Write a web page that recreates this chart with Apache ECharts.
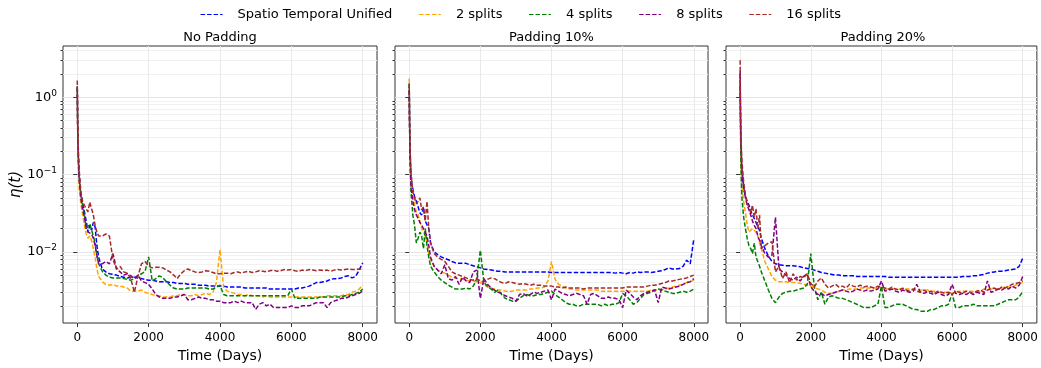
<!DOCTYPE html>
<html><head><meta charset="utf-8">
<script src="https://cdn.jsdelivr.net/npm/echarts@6/dist/echarts.min.js"></script>
<style>html,body{margin:0;padding:0;background:#fff}#c{width:1041px;height:368px}</style>
</head><body><div id="c"></div>
<script>
// ---------- data ----------
const T = [0,10,25,50,100,150,200,250,300,350,400,450,500,550,
600,700,800,900,1000,1100,1200,1300,1400,1500,
1600,1700,1800,1900,2000,2100,2200,2300,2400,2500,
2600,2700,2800,2900,3000,3100,3200,3300,3400,3500,
3600,3700,3800,3900,4000,4100,4200,4300,4400,4500,
4600,4700,4800,4900,5000,5100,5200,5300,5400,5500,
5600,5700,5800,5900,6000,6100,6200,6300,6400,6500,
6600,6700,6800,6900,7000,7100,7200,7300,7400,7500,
7600,7700,7800,7900,8000];

const seriesNames = ['Spatio Temporal Unified','2 splits','4 splits','8 splits','16 splits'];
const panelTitles = ['No Padding','Padding 10%','Padding 20%'];
const xTickValues = [0,2000,4000,6000,8000];
const yTickValues = [0.01,0.1,1];
const xLabel = 'Time (Days)';
const yLabel = '\u03b7(t)';

// Panel 1: No Padding
const p1Unified = [1.35,0.45,0.2,0.1,0.055,0.042,0.033,0.025,0.018,0.022,0.019,0.024,0.021,0.012,
0.0085,0.006,0.0055,0.0052,0.0051,0.005,0.0048,0.0047,0.0046,0.0047,
0.0047,0.0046,0.0045,0.0044,0.0043,0.0043,0.0042,0.0041,0.0041,0.0041,
0.004,0.004,0.0039,0.0039,0.0039,0.0038,0.0038,0.0038,0.0037,0.0037,
0.0037,0.0036,0.0036,0.0036,0.0036,0.0036,0.0035,0.0035,0.0035,0.0035,
0.0035,0.0034,0.0034,0.0034,0.0034,0.0034,0.0034,0.0034,0.0033,0.0033,
0.0033,0.0033,0.0033,0.0033,0.0033,0.0033,0.0034,0.0034,0.0035,0.0036,
0.0038,0.004,0.004,0.0041,0.0042,0.0044,0.0045,0.0045,0.0046,0.0048,
0.0049,0.0046,0.0048,0.0058,0.0072];
const p1Split2 = [1.3,0.4,0.15,0.07,0.042,0.03,0.022,0.017,0.015,0.016,0.014,0.011,0.0085,0.006,
0.0048,0.0041,0.0038,0.0037,0.0038,0.0036,0.0036,0.0035,0.0034,0.0031,
0.0031,0.0031,0.0032,0.003,0.0029,0.0028,0.0027,0.0027,0.0026,0.0026,
0.0026,0.0027,0.0027,0.0028,0.0028,0.0027,0.0027,0.0028,0.0027,0.0028,
0.0029,0.0028,0.003,0.004,0.0107,0.0035,0.0031,0.003,0.0029,0.0028,
0.0028,0.0027,0.0028,0.0027,0.0027,0.0027,0.0026,0.0027,0.0026,0.0026,
0.0026,0.0026,0.0026,0.0026,0.0026,0.0026,0.0026,0.0026,0.0026,0.0026,
0.0026,0.0026,0.0026,0.0026,0.0027,0.0027,0.0027,0.0027,0.0027,0.0028,
0.0028,0.003,0.0031,0.0033,0.0037];
const p1Split4 = [1.4,0.5,0.2,0.1,0.055,0.04,0.03,0.02,0.019,0.023,0.022,0.016,0.013,0.009,
0.007,0.0056,0.005,0.0047,0.0046,0.0046,0.0046,0.0045,0.0044,0.0043,
0.0045,0.0049,0.0052,0.0056,0.0086,0.0042,0.0045,0.0049,0.0046,0.0041,
0.0037,0.0034,0.0033,0.0033,0.0033,0.0034,0.0034,0.0034,0.0034,0.0034,
0.0034,0.0033,0.0033,0.0035,0.0037,0.0028,0.0027,0.0027,0.0027,0.0027,
0.0027,0.0027,0.0027,0.0027,0.0027,0.0027,0.0027,0.0027,0.0027,0.0027,
0.0027,0.0027,0.0027,0.0027,0.0033,0.0025,0.0025,0.0025,0.0025,0.0025,
0.0025,0.0025,0.0026,0.0026,0.0026,0.0026,0.0026,0.0026,0.0026,0.0027,
0.0027,0.0028,0.0029,0.003,0.0033];
const p1Split8 = [1.3,0.45,0.18,0.09,0.05,0.035,0.028,0.02,0.018,0.019,0.017,0.015,0.012,0.009,
0.007,0.007,0.0075,0.007,0.0095,0.006,0.0055,0.005,0.0052,0.0049,
0.0045,0.005,0.0042,0.004,0.0038,0.0033,0.0028,0.0026,0.0025,0.0025,
0.0025,0.0026,0.0026,0.0027,0.0028,0.0024,0.0024,0.0025,0.0026,0.0025,
0.0025,0.0024,0.0024,0.0023,0.0023,0.0022,0.0022,0.0022,0.0023,0.0022,
0.0023,0.0022,0.0022,0.0022,0.0018,0.0021,0.0022,0.002,0.0021,0.0019,
0.0019,0.0019,0.0019,0.0019,0.002,0.0019,0.0019,0.002,0.002,0.002,
0.0021,0.0022,0.0022,0.0022,0.0019,0.0022,0.0023,0.0024,0.0025,0.0025,
0.0026,0.0027,0.0028,0.0029,0.0031];
const p1Split16 = [1.65,0.6,0.25,0.12,0.06,0.045,0.04,0.036,0.033,0.044,0.042,0.03,0.022,0.018,
0.016,0.016,0.017,0.016,0.008,0.006,0.0065,0.0055,0.0053,0.0045,
0.003,0.0048,0.007,0.0075,0.0065,0.0062,0.0063,0.0063,0.0062,0.0058,
0.0055,0.005,0.0045,0.0052,0.0057,0.006,0.0057,0.0055,0.0054,0.0055,
0.0057,0.0056,0.0054,0.0052,0.0052,0.0053,0.0053,0.0052,0.0054,0.0055,
0.0053,0.0055,0.0056,0.0054,0.0055,0.0057,0.0056,0.0055,0.0057,0.0058,
0.0056,0.0057,0.0059,0.0058,0.0059,0.0057,0.0056,0.0058,0.0057,0.0059,
0.0058,0.0057,0.0058,0.0057,0.0058,0.0056,0.0058,0.0059,0.0058,0.0059,
0.006,0.0059,0.0059,0.006,0.006];

// Panel 2: Padding 10%
const p2Unified = [1.5,0.5,0.2,0.1,0.065,0.052,0.045,0.038,0.032,0.03,0.038,0.025,0.024,0.02,
0.013,0.01,0.0092,0.0086,0.0082,0.0079,0.0075,0.0072,0.0071,0.0071,
0.0071,0.0068,0.0066,0.0064,0.0062,0.006,0.0059,0.0058,0.0057,0.0056,
0.0056,0.0055,0.0055,0.0055,0.0055,0.0055,0.0055,0.0055,0.0055,0.0055,
0.0055,0.0055,0.0055,0.0055,0.0054,0.0054,0.0054,0.0054,0.0054,0.0054,
0.0054,0.0054,0.0054,0.0054,0.0054,0.0054,0.0054,0.0054,0.0054,0.0054,
0.0054,0.0054,0.0053,0.0054,0.0053,0.0052,0.0054,0.0053,0.0055,0.0054,
0.0055,0.0055,0.0054,0.0055,0.0056,0.0057,0.0059,0.0062,0.006,0.006,
0.0061,0.0065,0.0078,0.007,0.0145];
const p2Split2 = [1.75,0.5,0.2,0.1,0.055,0.04,0.033,0.03,0.025,0.02,0.018,0.016,0.013,0.0095,
0.008,0.0065,0.0058,0.0055,0.0053,0.005,0.0047,0.0046,0.0045,0.0044,
0.0043,0.0042,0.0042,0.0041,0.004,0.0038,0.0035,0.0034,0.0033,0.0032,
0.0032,0.0031,0.0031,0.0031,0.0032,0.0032,0.0032,0.0032,0.0033,0.0033,
0.0034,0.0034,0.0035,0.0042,0.0075,0.0044,0.0038,0.0036,0.0034,0.0033,
0.0033,0.0032,0.0032,0.0032,0.0032,0.0032,0.0032,0.0032,0.0031,0.0031,
0.0031,0.0031,0.0031,0.0031,0.0031,0.0031,0.0031,0.0031,0.0031,0.0031,
0.0031,0.0031,0.0032,0.0032,0.0032,0.0032,0.0033,0.0034,0.0035,0.0036,
0.0037,0.0038,0.004,0.0041,0.0043];
const p2Split4 = [1.5,0.45,0.15,0.06,0.03,0.022,0.013,0.015,0.018,0.016,0.011,0.02,0.012,0.0085,
0.0065,0.0055,0.0048,0.0043,0.004,0.0037,0.0035,0.0033,0.0033,0.0033,
0.0034,0.0033,0.0036,0.0045,0.0105,0.004,0.0036,0.0033,0.003,0.0032,
0.0028,0.0025,0.0024,0.0023,0.0023,0.0025,0.0027,0.0028,0.0027,0.0027,
0.0028,0.0028,0.0029,0.003,0.0031,0.0028,0.0026,0.0024,0.0022,0.0021,
0.0021,0.002,0.002,0.0021,0.0021,0.0021,0.0021,0.0021,0.002,0.0021,
0.002,0.0021,0.0021,0.0022,0.0029,0.0027,0.0024,0.0021,0.0022,0.0025,
0.0028,0.0029,0.003,0.0032,0.0033,0.0032,0.0031,0.003,0.0029,0.0029,
0.003,0.0031,0.003,0.0031,0.0033];
const p2Split8 = [1.2,0.4,0.15,0.07,0.045,0.035,0.03,0.027,0.024,0.022,0.02,0.018,0.016,0.012,
0.0085,0.0065,0.0058,0.0052,0.0068,0.0045,0.0043,0.0048,0.0038,0.0047,
0.0042,0.004,0.0055,0.0058,0.0025,0.0045,0.0038,0.0034,0.0032,0.003,
0.0029,0.0027,0.0026,0.0025,0.0023,0.0028,0.0029,0.0027,0.0028,0.003,
0.0029,0.003,0.0031,0.0032,0.0024,0.0033,0.0031,0.0029,0.0028,0.0027,
0.0028,0.0029,0.0028,0.0027,0.0021,0.0028,0.0029,0.0027,0.0025,0.0025,
0.0026,0.0025,0.0025,0.0024,0.0019,0.0032,0.0029,0.0026,0.0024,0.0027,
0.0029,0.003,0.0031,0.0032,0.0022,0.0035,0.0034,0.0033,0.0034,0.0035,
0.0036,0.0038,0.004,0.0041,0.0045];
const p2Split16 = [1.4,0.5,0.2,0.1,0.06,0.05,0.042,0.045,0.05,0.035,0.038,0.025,0.045,0.02,
0.013,0.0095,0.0085,0.008,0.0075,0.0065,0.0055,0.0052,0.005,0.0048,
0.0046,0.0044,0.0043,0.0045,0.0042,0.0041,0.0044,0.0046,0.0045,0.0042,
0.004,0.0039,0.0041,0.004,0.0039,0.0038,0.0039,0.0038,0.0037,0.0038,
0.0037,0.0037,0.0036,0.0036,0.0036,0.0035,0.0035,0.0034,0.0035,0.0034,
0.0034,0.0034,0.0034,0.0033,0.0034,0.0034,0.0034,0.0034,0.0034,0.0034,
0.0034,0.0034,0.0034,0.0034,0.0034,0.0035,0.0035,0.0035,0.0035,0.0035,
0.0035,0.0036,0.0037,0.0037,0.0038,0.0039,0.004,0.0042,0.0042,0.0043,
0.0044,0.0045,0.0046,0.0048,0.005];

// Panel 3: Padding 20%
const p3Unified = [2.0,0.6,0.2,0.1,0.065,0.052,0.045,0.04,0.034,0.03,0.027,0.024,0.021,0.019,
0.015,0.011,0.0088,0.0075,0.007,0.0068,0.0067,0.0066,0.0066,0.0066,
0.0065,0.0064,0.0062,0.0061,0.006,0.0058,0.0056,0.0054,0.0053,0.0052,
0.0051,0.005,0.005,0.0049,0.0049,0.0049,0.0049,0.0048,0.0048,0.0048,
0.0048,0.0048,0.0048,0.0048,0.0048,0.0048,0.0047,0.0047,0.0047,0.0047,
0.0047,0.0047,0.0047,0.0047,0.0047,0.0047,0.0047,0.0047,0.0047,0.0047,
0.0047,0.0047,0.0047,0.0047,0.0047,0.0047,0.0047,0.0048,0.0048,0.0048,
0.0049,0.0049,0.005,0.0051,0.0053,0.0054,0.0055,0.0056,0.0056,0.0057,
0.0058,0.0059,0.006,0.0065,0.0083];
const p3Split2 = [1.5,0.45,0.15,0.07,0.045,0.032,0.022,0.018,0.018,0.02,0.02,0.018,0.016,0.013,
0.011,0.0075,0.006,0.0048,0.0043,0.0041,0.0041,0.0041,0.004,0.004,
0.004,0.0039,0.0038,0.0037,0.0036,0.0034,0.0033,0.0032,0.003,0.0029,
0.0029,0.003,0.0031,0.0032,0.0032,0.0033,0.0033,0.0033,0.0034,0.0034,
0.0034,0.0034,0.0034,0.0034,0.0034,0.0033,0.0033,0.0033,0.0033,0.0033,
0.0033,0.0033,0.0033,0.0033,0.0032,0.0032,0.0032,0.0032,0.0031,0.0031,
0.003,0.003,0.003,0.003,0.0029,0.003,0.0031,0.0031,0.0031,0.0031,
0.0031,0.0031,0.0031,0.0033,0.0033,0.0033,0.0033,0.0033,0.0034,0.0035,
0.0035,0.0035,0.0037,0.0039,0.004];
const p3Split4 = [1.4,0.4,0.12,0.05,0.028,0.02,0.015,0.012,0.011,0.0095,0.013,0.0085,0.0075,0.0065,
0.0055,0.0042,0.0032,0.0025,0.0022,0.0026,0.0029,0.003,0.0031,0.0031,
0.0032,0.0033,0.0034,0.0038,0.0095,0.0035,0.0024,0.003,0.0021,0.0026,
0.0027,0.0026,0.0025,0.0025,0.0024,0.0023,0.0022,0.0021,0.002,0.0019,
0.0019,0.0019,0.002,0.0021,0.0036,0.0019,0.0019,0.002,0.0021,0.0021,
0.0021,0.002,0.0019,0.0018,0.0018,0.0017,0.0017,0.0017,0.0018,0.0018,
0.0019,0.002,0.002,0.0021,0.0029,0.0019,0.0019,0.002,0.002,0.002,
0.0021,0.002,0.002,0.002,0.002,0.002,0.002,0.0021,0.0022,0.0023,
0.0024,0.0024,0.0024,0.0026,0.0031];
const p3Split8 = [2.2,0.6,0.25,0.12,0.07,0.05,0.04,0.035,0.03,0.025,0.022,0.02,0.016,0.014,
0.012,0.0095,0.0085,0.009,0.028,0.006,0.0055,0.005,0.0045,0.0043,
0.0047,0.0042,0.0048,0.0052,0.0035,0.0031,0.0028,0.0029,0.0027,0.0028,
0.0029,0.003,0.0031,0.0032,0.0031,0.003,0.0031,0.0033,0.0032,0.0031,
0.0032,0.0031,0.0032,0.0033,0.0042,0.0031,0.0032,0.0033,0.0031,0.003,
0.0032,0.0031,0.003,0.0031,0.0038,0.003,0.0029,0.003,0.0029,0.0028,
0.003,0.0028,0.0027,0.0028,0.0038,0.0029,0.0028,0.0029,0.0028,0.003,
0.0028,0.003,0.0029,0.0028,0.0042,0.003,0.0031,0.0033,0.0032,0.0034,
0.0033,0.0036,0.0034,0.0037,0.0048];
const p3Split16 = [3.0,0.8,0.3,0.15,0.08,0.055,0.042,0.038,0.032,0.04,0.028,0.036,0.02,0.03,
0.011,0.012,0.013,0.0135,0.0055,0.0065,0.0045,0.0055,0.004,0.0052,
0.0043,0.0048,0.0046,0.0052,0.0039,0.0035,0.0042,0.0046,0.0038,0.0034,
0.0036,0.0038,0.0035,0.0036,0.0034,0.0038,0.0036,0.0035,0.0037,0.0035,
0.0036,0.0035,0.0034,0.0036,0.0035,0.0034,0.0033,0.0035,0.0033,0.0032,
0.0034,0.0032,0.0031,0.0033,0.0031,0.003,0.0032,0.003,0.0031,0.0029,
0.0031,0.003,0.0029,0.003,0.0028,0.0031,0.003,0.0029,0.0031,0.003,
0.0029,0.0031,0.0032,0.003,0.0032,0.0033,0.0034,0.0032,0.0035,0.0034,
0.0036,0.0038,0.0039,0.004,0.0042];

// ---------- layout / style ----------
const panels = [
  [p1Unified, p1Split2, p1Split4, p1Split8, p1Split16],
  [p2Unified, p2Split2, p2Split4, p2Split8, p2Split16],
  [p3Unified, p3Split2, p3Split4, p3Split8, p3Split16]
];
const colors = ['#0000ff', '#ffa500', '#008000', '#800080', '#a52a2a'];
const FONT = 'DejaVu Sans';
const gridLefts = [63, 395, 726];
const gridWidths = [314, 313, 314];
const GRID_TOP = 46, GRID_H = 286;
const Y_MIN = 0.0012, Y_MAX = 4.6;

const minorVals = [];
for (let e = -3; e <= 0; e++) for (let m = 2; m <= 9; m++) {
  const v = m * Math.pow(10, e);
  if (v > Y_MIN && v < Y_MAX) minorVals.push(+v.toPrecision(3));
}

const grids = [], xAxes = [], yAxes = [], minorAxes = [], series = [], titles = [];
panels.forEach((vals, p) => {
  grids.push({left: gridLefts[p], top: GRID_TOP, width: gridWidths[p], height: GRID_H,
    show: true, borderColor: '#333', borderWidth: 1, backgroundColor: 'transparent'});
  titles.push({text: panelTitles[p], left: gridLefts[p] + gridWidths[p] / 2, top: 31, padding: 0,
    textAlign: 'center', textStyle: {fontFamily: FONT, fontSize: 13, fontWeight: 'normal', color: '#000'}});
  xAxes.push({type: 'value', gridIndex: p, min: -400, max: 8400,
    name: xLabel, nameLocation: 'middle', nameGap: 26,
    nameTextStyle: {fontFamily: FONT, fontSize: 14, color: '#000'},
    axisLine: {show: false},
    axisTick: {show: true, length: 4, customValues: xTickValues, lineStyle: {color: '#333'}},
    axisLabel: {customValues: xTickValues, margin: 9, fontFamily: FONT, fontSize: 12, color: '#000',
      formatter: v => String(v)},
    splitLine: {show: true, lineStyle: {color: '#e9e9e9', width: 1}}});
  yAxes.push({type: 'log', logBase: 10, gridIndex: p, min: Y_MIN, max: Y_MAX,
    name: p === 0 ? yLabel : '', nameLocation: 'middle', nameGap: 38,
    nameTextStyle: {fontFamily: FONT, fontSize: 15, fontStyle: 'italic', color: '#000'},
    axisLine: {show: false},
    axisTick: {show: true, length: 4, customValues: yTickValues, lineStyle: {color: '#333'}},
    axisLabel: {show: p === 0, customValues: yTickValues, margin: 6, fontFamily: FONT, color: '#000',
      formatter: v => {
        const r = Math.round(Math.log10(v));
        return '{b|10}{s|' + (r < 0 ? '\u2212' + (-r) : r) + '}';
      },
      rich: {b: {fontFamily: FONT, fontSize: 13, color: '#000'},
             s: {fontFamily: FONT, fontSize: 9, color: '#000', verticalAlign: 'top', padding: [0, 0, 8, 0]}}},
    splitLine: {show: true, lineStyle: {color: '#e6e6e6', width: 1}}});
  minorAxes.push({type: 'log', logBase: 10, gridIndex: p, min: Y_MIN, max: Y_MAX, position: 'left',
    axisLine: {show: false},
    axisTick: {show: true, length: 2.5, customValues: minorVals, lineStyle: {color: '#333'}},
    axisLabel: {show: false},
    splitLine: {show: true, lineStyle: {color: '#f1f1f1', width: 1}}});
  vals.forEach((v, s) => {
    series.push({type: 'line', name: seriesNames[s], xAxisIndex: p, yAxisIndex: p,
      data: T.map((t, i) => [t, v[i]]), symbol: 'none', showSymbol: false, animation: false,
      lineStyle: {color: colors[s], width: 1.5, type: [4.5, 2]}, itemStyle: {color: colors[s]}, z: 3 + s});
  });
});

const chart = echarts.init(document.getElementById('c'), null, {renderer: 'canvas'});
chart.setOption({
  animation: false,
  backgroundColor: '#fff',
  title: titles,
  legend: {data: seriesNames, top: 3, left: 'center', itemWidth: 22, itemHeight: 10, itemGap: 26,
    itemStyle: {opacity: 0}, lineStyle: {width: 1.2},
    textStyle: {fontFamily: FONT, fontSize: 13, color: '#000', padding: [0, 0, 0, 10]}},
  grid: grids, xAxis: xAxes, yAxis: yAxes.concat(minorAxes), series: series
});
</script></body></html>
